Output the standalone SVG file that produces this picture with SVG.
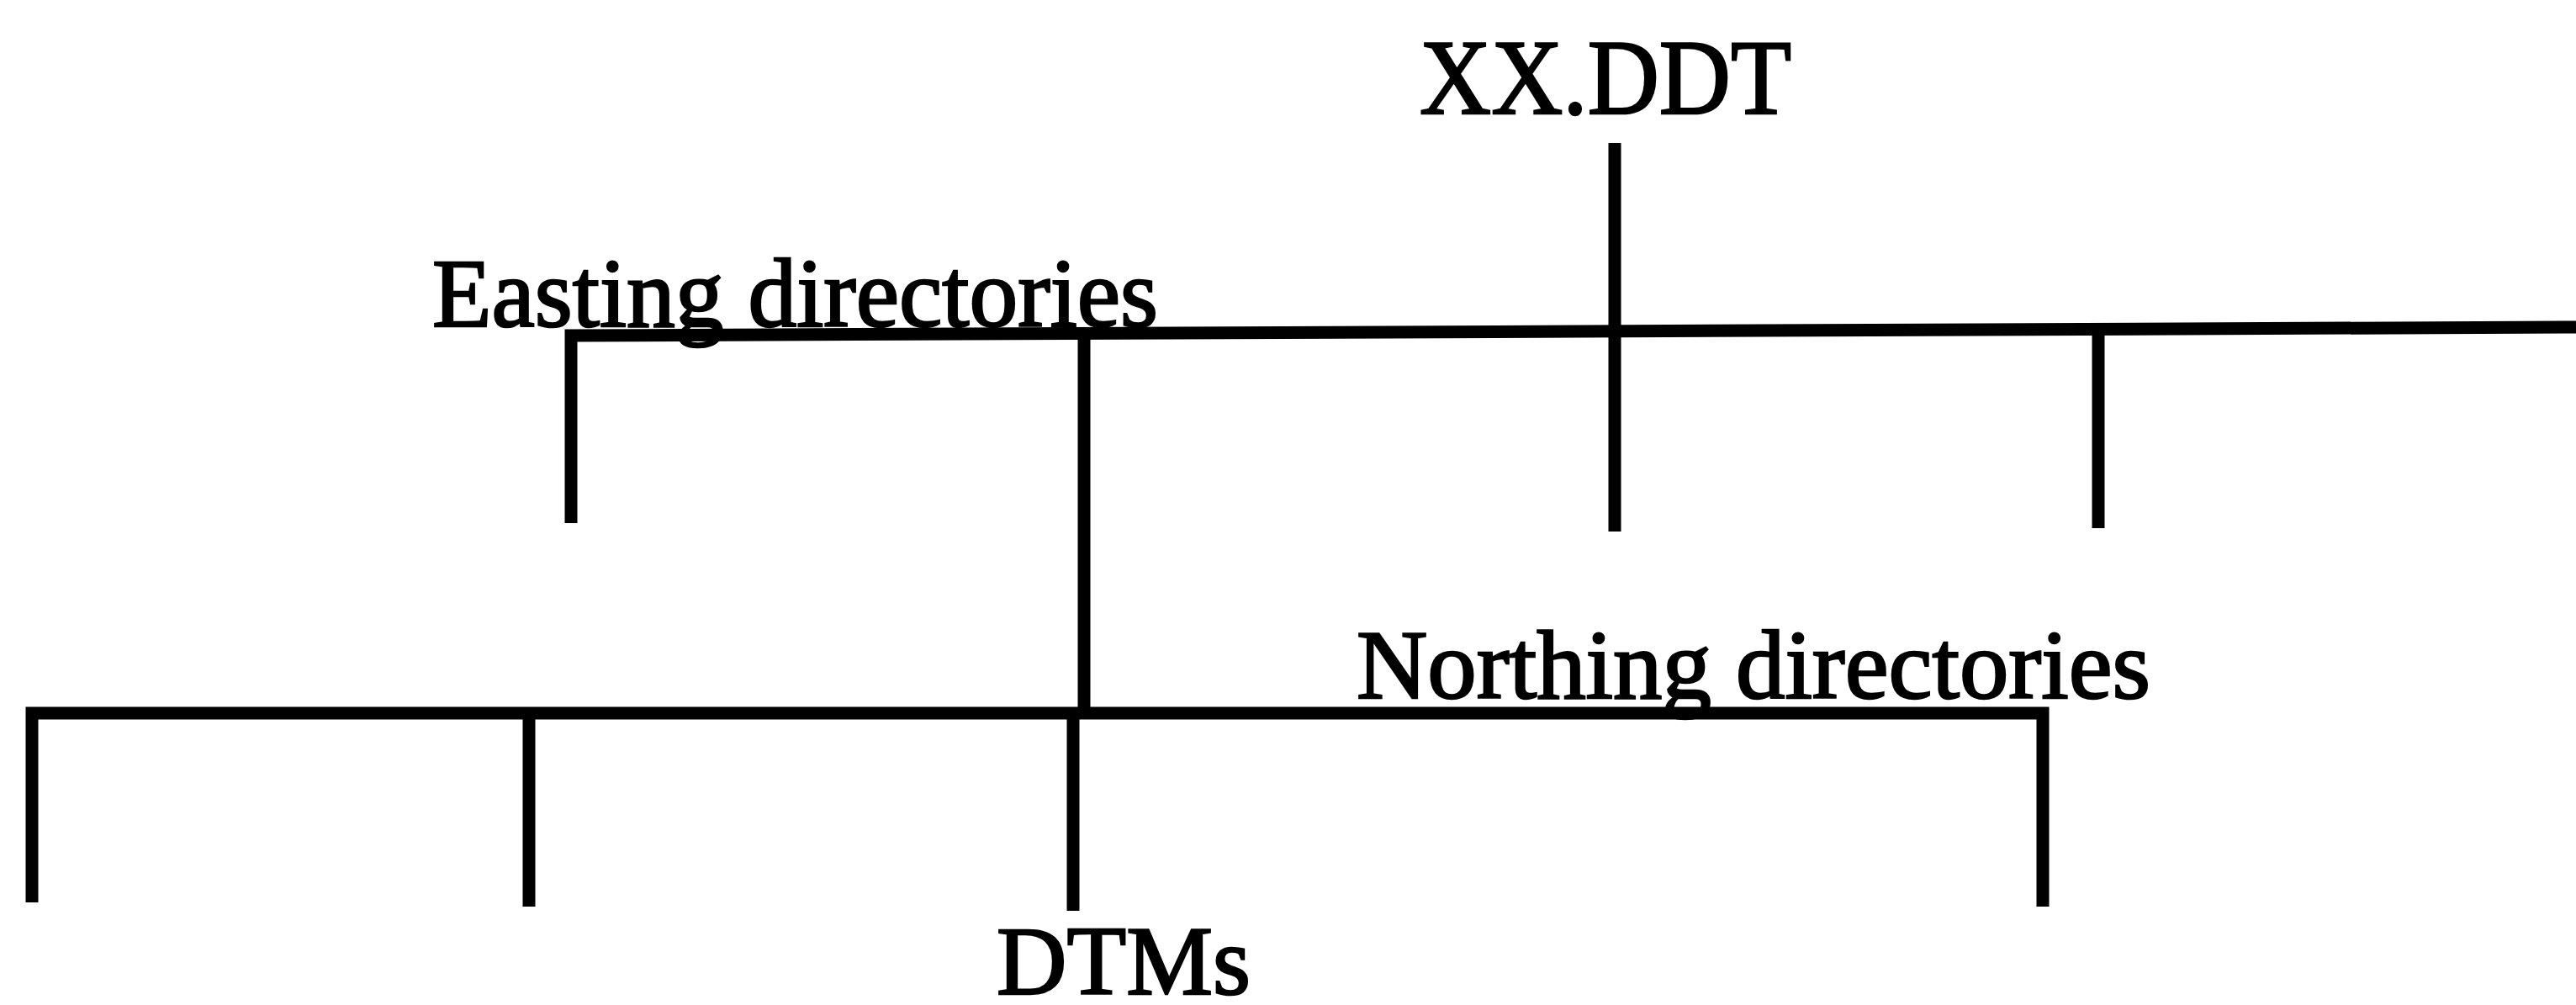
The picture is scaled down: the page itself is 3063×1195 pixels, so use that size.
<svg xmlns="http://www.w3.org/2000/svg" width="3063" height="1195" viewBox="0 0 3063 1195">
<style>
  .lbl { font-family: "Liberation Serif", "Times New Roman", serif; fill: #000; stroke: #000; stroke-width: 2.5; font-size: 117px; }
  .big { font-size: 128px; }
  .ln { stroke: #000; stroke-width: 15; fill: none; stroke-linecap: butt; stroke-linejoin: miter; }
</style>
<rect width="3063" height="1195" fill="#fff"/>
<g id="connectors">
  <line class="ln" x1="1920" y1="170" x2="1920" y2="632"/>
  <polyline class="ln" points="679,622 679,399 3063,389"/>
  <line class="ln" x1="1289" y1="397" x2="1289" y2="846"/>
  <line class="ln" x1="2495" y1="392" x2="2495" y2="628"/>
  <polyline class="ln" points="38,1073 38,848 2429,848 2429,1078"/>
  <line class="ln" x1="629" y1="848" x2="629" y2="1078"/>
  <line class="ln" x1="1276" y1="848" x2="1276" y2="1083"/>
</g>
<g id="node-xxddt">
  <text class="lbl big" x="1688" y="135" textLength="442" lengthAdjust="spacingAndGlyphs">XX.DDT</text>
</g>
<g id="node-easting">
  <text class="lbl" x="514" y="388" textLength="863" lengthAdjust="spacingAndGlyphs">Easting directories</text>
</g>
<g id="node-northing">
  <text class="lbl" x="1613" y="830" textLength="944" lengthAdjust="spacingAndGlyphs">Northing directories</text>
</g>
<g id="node-dtms">
  <text class="lbl" x="1185" y="1182" textLength="302" lengthAdjust="spacingAndGlyphs">DTMs</text>
</g>
</svg>
